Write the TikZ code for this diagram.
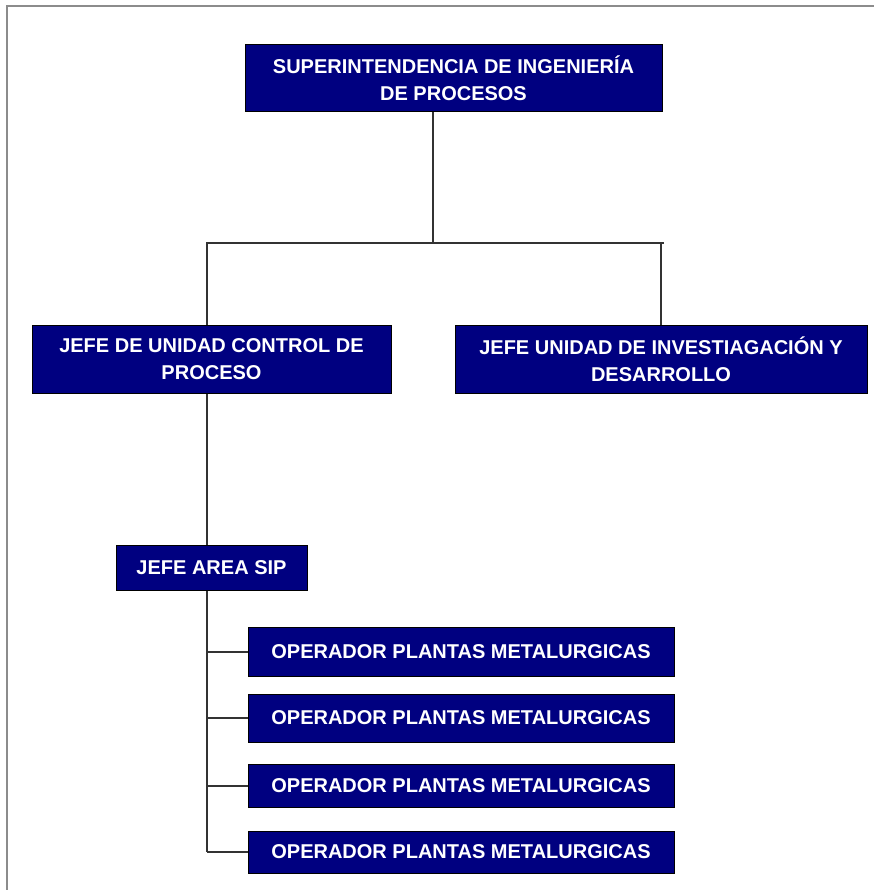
\documentclass[tikz,border=0pt]{standalone}
\usepackage{fontspec}
\setmainfont{Liberation Sans}
\usepackage{tikz}
\usetikzlibrary{positioning}
\definecolor{navy}{RGB}{0,0,128}
\tikzset{
  cargo/.style={draw=black, line width=1pt, fill=navy, text=white,
    font=\bfseries\fontsize{20}{27}\selectfont, align=center, inner sep=0pt},
  linea/.style={draw=black!80, line width=1.8pt}
}

\begin{document}
\begin{tikzpicture}[x=1pt,y=-1pt]
\useasboundingbox (0,0) rectangle (874,890);
\draw[gray!90, line width=1.5pt] (7,890) -- (7,6) -- (874,6);
\node[cargo, minimum width=417pt, minimum height=67pt] (sup) at (453.5,78.5) {SUPERINTENDENCIA DE INGENIERÍA\\DE PROCESOS};
\node[cargo, minimum width=359pt, minimum height=68pt] (jcp) at (211.5,359) {JEFE DE UNIDAD CONTROL DE\\PROCESO};
\node[cargo, minimum width=412pt, minimum height=68pt] (jid) at (661,359) {JEFE UNIDAD DE INVESTIAGACIÓN Y\\DESARROLLO};
\node[cargo, minimum width=191pt, minimum height=45pt] (sip) at (211.5,567.5) {JEFE AREA SIP};
\foreach \i/\y/\h in {1/652/49,2/718/48,3/786/43,4/852/42}
  \node[cargo, minimum width=426pt, minimum height=\h pt] (op\i) at (461,\y) {OPERADOR PLANTAS METALURGICAS};
\coordinate (bl) at (207,243);
\coordinate (br) at (664,243);
\coordinate (bd) at (661,243);
\coordinate (bs) at (433,243);
\draw[linea] (bs |- sup.south) -- (bs);
\draw[linea] (bl |- jcp.north) -- (bl) -- (br);
\draw[linea] (bd) -- (bd |- jid.north);
\draw[linea] (bl |- jcp.south) -- (bl |- sip.north);
\draw[linea] (bl |- sip.south) -- (bl |- op4.west);
\foreach \i in {1,...,4}
  \draw[linea] (bl |- op\i.west) -- (op\i.west);
\end{tikzpicture}
\end{document}
